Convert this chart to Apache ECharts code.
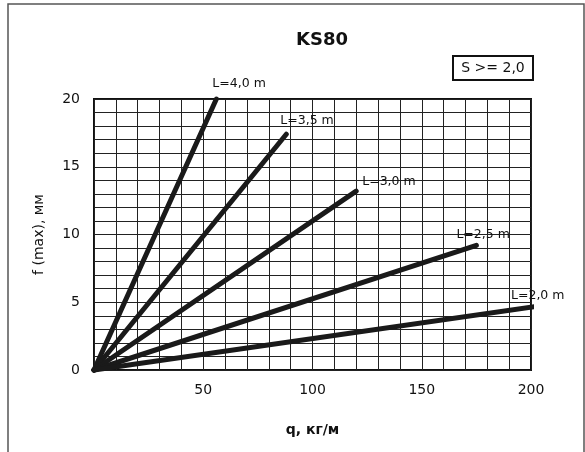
<!DOCTYPE html>
<html>
<head>
<meta charset="utf-8">
<script src="https://cdn.jsdelivr.net/npm/echarts@6/dist/echarts.min.js"></script>
<style>html,body{margin:0;padding:0;background:#fff}#c{width:585px;height:452px}</style>
</head>
<body>
<div id="c"></div>
<script>
var seriesNames = ["L=4,0 m", "L=3,5 m", "L=3,0 m", "L=2,5 m", "L=2,0 m"];
var endQ = [56, 88, 120, 175, 203];
var endF = [20.0, 17.4, 13.2, 9.2, 4.7];
var labelOffsets = [[-4, -15], [-6, -13], [6, -9], [-20, -11], [-23, -11]];
var xTickLabels = [50, 100, 150, 200];
var yTickLabels = [0, 5, 10, 15, 20];

var FONT = "'DejaVu Sans', sans-serif";
var chart = echarts.init(document.getElementById('c'), null, {renderer: 'canvas'});
var series = seriesNames.map(function (n, i) {
  return {
    name: n,
    type: 'line',
    data: [[0, 0], [endQ[i], endF[i]]],
    showSymbol: false,
    symbol: 'none',
    clip: false,
    silent: true,
    lineStyle: {color: '#1a1a1a', width: 5, cap: 'round'},
    endLabel: {
      show: true,
      formatter: n,
      distance: 0,
      offset: labelOffsets[i],
      color: '#111',
      fontSize: 12.5,
      fontFamily: FONT
    },
    z: 5
  };
});

chart.setOption({
  animation: false,
  backgroundColor: '#fff',
  title: {
    text: 'KS80',
    left: 317, top: 26,
    textAlign: 'center',
    textStyle: {fontSize: 18, fontWeight: 'bold', color: '#111', fontFamily: FONT}
  },
  grid: {left: 94, right: 54, top: 99, bottom: 82, show: true, borderColor: '#111', borderWidth: 2, backgroundColor: 'transparent'},
  xAxis: {
    type: 'value', min: 0, max: 200, interval: 10,
    name: 'q, кг/м', nameLocation: 'middle', nameGap: 53,
    nameTextStyle: {fontSize: 14, fontWeight: 'bold', color: '#111', fontFamily: FONT},
    axisLine: {show: false}, axisTick: {show: false},
    axisLabel: {
      margin: 13, fontSize: 14, color: '#111', fontFamily: FONT,
      formatter: function (v) { return xTickLabels.indexOf(v) >= 0 ? String(v) : ''; }
    },
    splitLine: {show: true, lineStyle: {color: '#222', width: 1}}
  },
  yAxis: {
    type: 'value', min: 0, max: 20, interval: 1,
    name: 'f (max), мм', nameLocation: 'middle', nameGap: 48,
    nameTextStyle: {fontSize: 14, color: '#111', fontFamily: FONT},
    axisLine: {show: false}, axisTick: {show: false},
    axisLabel: {
      margin: 14, fontSize: 14, color: '#111', fontFamily: FONT,
      formatter: function (v) { return yTickLabels.indexOf(v) >= 0 ? String(v) : ''; }
    },
    splitLine: {show: true, lineStyle: {color: '#222', width: 1}}
  },
  graphic: [
    {type: 'rect', shape: {x: 8, y: 4, width: 576, height: 470}, style: {fill: 'none', stroke: '#555', lineWidth: 1.5}, silent: true},
    {type: 'rect', shape: {x: 453, y: 56, width: 80, height: 24}, style: {fill: '#fff', stroke: '#111', lineWidth: 2}, silent: true},
    {type: 'text', x: 493, y: 68, style: {text: 'S >= 2,0', fontSize: 14, fontFamily: FONT, fill: '#111', textAlign: 'center', textVerticalAlign: 'middle'}, silent: true}
  ],
  series: series
});
</script>
</body>
</html>
